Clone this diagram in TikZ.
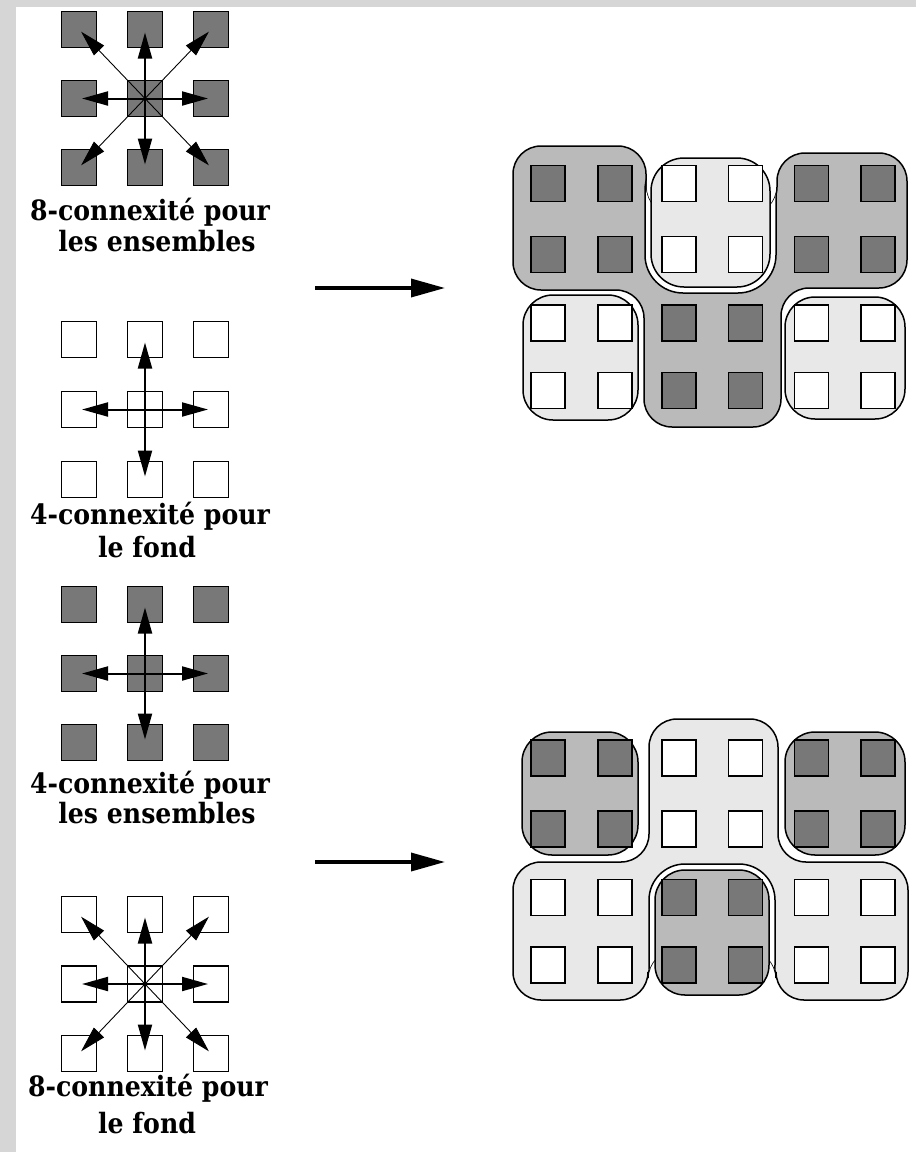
\documentclass[tikz,border=0pt]{standalone}
\usepackage{fontspec}
\newfontfamily\lab[FakeStretch=0.9]{DejaVu Serif}
\usetikzlibrary{arrows.meta}
\definecolor{strip}{RGB}{214,214,214}
\definecolor{darksq}{RGB}{120,120,120}
\definecolor{dense}{RGB}{186,186,186}
\definecolor{light}{RGB}{232,232,232}
\newcommand\sqgrid[4]{%
  \foreach \i in {0,1,2}{\foreach \j in {0,1,2}{%
    \node[#4] (#1\i\j) at ({79+66*\i},{#2+#3*\j}) {};}}}
\begin{document}
\begin{tikzpicture}[x=1pt,y=-1pt,
  sqd/.style={draw=black, line width=1.5pt, fill=darksq, minimum width=35pt, minimum height=36pt, inner sep=0pt, outer sep=0pt},
  sqw/.style={sqd, fill=white},
  rsqd/.style={sqd, minimum width=34pt},
  rsqw/.style={sqw, minimum width=34pt},
  orth/.style={line width=2pt, -{Triangle[length=26pt,width=14pt]}, shorten >=3pt},
  diag/.style={line width=0.9pt, -{Triangle[length=26pt,width=14pt]}, shorten >=3pt},
  bigarrow/.style={line width=3.5pt, -{Triangle[length=34pt,width=18pt]}},
  lbl/.style={font=\lab\bfseries\fontsize{28}{30}\selectfont, anchor=base, inner sep=0pt},
  blob/.style={draw=black, line width=1.5pt},
]
\fill[white] (0,0) rectangle (916,1152);
\useasboundingbox (0,0) rectangle (916,1152);
\fill[strip] (0,0) rectangle (916,7);
\fill[strip] (0,0) rectangle (16,1152);

% ---------- left grids ----------
\sqgrid{a}{29.5}{69}{sqd}
\sqgrid{b}{339.5}{70}{sqw}
\sqgrid{c}{604.5}{69}{sqd}
\sqgrid{d}{914.5}{69.5}{sqw}

% grid a: 8-connexity
\foreach \n in {a10,a01,a21,a12} \draw[orth] (a11.center) -- (\n.center);
\foreach \n in {a00,a20,a02,a22} \draw[diag] (a11.center) -- (\n.center);
% grid b: 4-connexity
\foreach \n in {b10,b01,b21,b12} \draw[orth] (b11.center) -- (\n.center);
% grid c: 4-connexity
\foreach \n in {c10,c01,c21,c12} \draw[orth] (c11.center) -- (\n.center);
% grid d: 8-connexity
\foreach \n in {d10,d01,d21,d12} \draw[orth] (d11.center) -- (\n.center);
\foreach \n in {d00,d20,d02,d22} \draw[diag] (d11.center) -- (\n.center);

% labels
\node[lbl] (ta1) at (150,220) {8-connexité pour};
\node[lbl] (ta2) at (157,251) {les ensembles};
\node[lbl] (tb1) at (150,524) {4-connexité pour};
\node[lbl] (tb2) at (147,557) {le fond};
\node[lbl] (tc1) at (150,793) {4-connexité pour};
\node[lbl] (tc2) at (157,823) {les ensembles};
\node[lbl] (td1) at (148,1096) {8-connexité pour};
\node[lbl] (td2) at (147,1133) {le fond};

% ---------- big arrows ----------
\coordinate (p1s) at (315,288);
\coordinate (p1e) at (445,288);
\coordinate (p2s) at (315,862);
\coordinate (p2e) at (445,862);
\draw[bigarrow] (p1s) -- (p1e);
\draw[bigarrow] (p2s) -- (p2e);

% ---------- top right diagram ----------
\def\greyregion{(513,146) -- (646,146) -- (646,215) -- (777,215) -- (777,153) -- (907,153) -- (907,288) -- (781,288) -- (781,427) -- (644,427) -- (644,290) -- (513,290) -- cycle}
\filldraw[blob, fill=dense, rounded corners=28pt] \greyregion;
\begin{scope}
  \clip[rounded corners=28pt] \greyregion;
  \draw[blob, fill=white, rounded corners=38pt] (645,152) rectangle (776,293);
\end{scope}
\filldraw[blob, fill=light, rounded corners=33pt] (651,158) rectangle (770,287);
\filldraw[blob, fill=light, rounded corners=30pt] (523,295) rectangle (638,420);
\filldraw[blob, fill=light, rounded corners=30pt] (785,297) rectangle (905,419);

\foreach \x/\k in {548/1,615/2,811.5/5,878/6}{
  \foreach \y/\r in {183.5/1,254.5/2}{\node[rsqd] (u\k\r) at (\x,\y) {};}
  \foreach \y/\r in {323/3,390.5/4}{\node[rsqw] (u\k\r) at (\x,\y) {};}}
\foreach \x/\k in {679/3,745.5/4}{
  \foreach \y/\r in {183.5/1,254.5/2}{\node[rsqw] (u\k\r) at (\x,\y) {};}
  \foreach \y/\r in {323/3,390.5/4}{\node[rsqd] (u\k\r) at (\x,\y) {};}}

% ---------- bottom right diagram ----------
\def\lightregion{(649,719) -- (778,719) -- (778,862) -- (908,862) -- (908,1000) -- (776,1000) -- (776,950) -- (648,950) -- (648,1000) -- (513,1000) -- (513,862) -- (649,862) -- cycle}
\filldraw[blob, fill=light, rounded corners=28pt] \lightregion;
\begin{scope}
  \clip[rounded corners=28pt] \lightregion;
  \draw[blob, fill=white, rounded corners=36pt] (649,864) rectangle (775,1001);
\end{scope}
\filldraw[blob, fill=dense, rounded corners=30pt] (655,870) rectangle (769,995);
\filldraw[blob, fill=dense, rounded corners=30pt] (522,732) rectangle (638,855);
\filldraw[blob, fill=dense, rounded corners=30pt] (785,732) rectangle (905,855);

\foreach \x/\k in {548/1,615/2,811.5/5,878/6}{
  \foreach \y/\r in {758/1,829/2}{\node[rsqd] (v\k\r) at (\x,\y) {};}
  \foreach \y/\r in {897.5/3,965/4}{\node[rsqw] (v\k\r) at (\x,\y) {};}}
\foreach \x/\k in {679/3,745.5/4}{
  \foreach \y/\r in {758/1,829/2}{\node[rsqw] (v\k\r) at (\x,\y) {};}
  \foreach \y/\r in {897.5/3,965/4}{\node[rsqd] (v\k\r) at (\x,\y) {};}}
\end{tikzpicture}
\end{document}
